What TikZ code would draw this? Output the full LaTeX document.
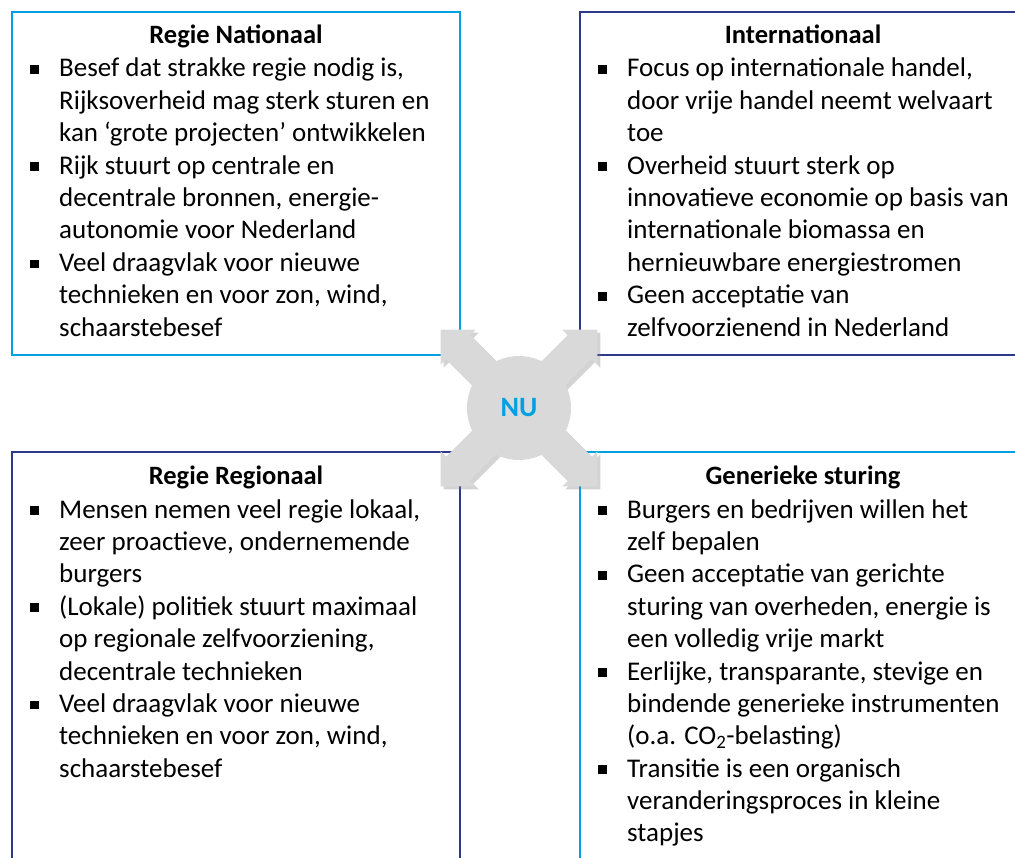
\documentclass[tikz,border=0pt]{standalone}
\usepackage{fontspec}
\setmainfont{Carlito}
\usetikzlibrary{positioning,shadows}
\definecolor{lichtblauw}{RGB}{0,160,227}
\definecolor{donkerblauw}{RGB}{46,57,140}
\definecolor{pijlgrijs}{RGB}{217,217,217}
\newcommand{\punt}{\par\hangindent=29pt\hangafter=1\noindent\hbox to 29pt{\rule[0.12em]{8.5pt}{8.5pt}\hfil}}
\newcommand{\lijstje}[1]{\vtop{\hsize=430pt\raggedright\parindent=0pt\parskip=0pt #1}}

\begin{document}
\begin{tikzpicture}[x=1pt,y=-1pt,
  kader/.style={line width=2.5pt},
  kop/.style={font=\fontsize{26.5}{32.4}\selectfont\bfseries, anchor=base, inner sep=0pt},
  lijst/.style={font=\fontsize{27}{32.4}\selectfont, anchor=base west, inner sep=0pt}]
\useasboundingbox (0,0) rectangle (1015,858);
% kaders
\draw[kader, lichtblauw] (12,12) rectangle (460,355);
\draw[kader, donkerblauw] (580,12) rectangle (1026,355);
\draw[kader, donkerblauw] (12,452) rectangle (460,880);
\draw[kader, lichtblauw] (580,452) rectangle (1026,880);
% linksboven
\node[kop] (nationaal) at (236,44) {Regie Nationaal};
\node[lijst] (nationaaltekst) at (30,77) {\lijstje{\punt Besef dat strakke regie nodig is,\newline Rijksoverheid mag sterk sturen en\newline kan ‘grote projecten’ ontwikkelen
  \punt Rijk stuurt op centrale en\newline decentrale bronnen, energie-\newline autonomie voor Nederland
  \punt Veel draagvlak voor nieuwe\newline technieken en voor zon, wind,\newline schaarstebesef}};
% rechtsboven
\node[kop] (internationaal) at (803,44) {Internationaal};
\node[lijst] (internationaaltekst) at (598,77) {\lijstje{\punt Focus op internationale handel,\newline door vrije handel neemt welvaart\newline toe
  \punt Overheid stuurt sterk op\newline innovatieve economie op basis van\newline internationale biomassa en\newline hernieuwbare energiestromen
  \punt Geen acceptatie van\newline zelfvoorzienend in Nederland}};
% linksonder
\node[kop] (regionaal) at (236,485) {Regie Regionaal};
\node[lijst] (regionaaltekst) at (30,518) {\lijstje{\punt Mensen nemen veel regie lokaal,\newline zeer proactieve, ondernemende\newline burgers
  \punt (Lokale) politiek stuurt maximaal\newline op regionale zelfvoorziening,\newline decentrale technieken
  \punt Veel draagvlak voor nieuwe\newline technieken en voor zon, wind,\newline schaarstebesef}};
% rechtsonder
\node[kop] (generiek) at (803,485) {Generieke sturing};
\node[lijst] (generiektekst) at (598,518) {\lijstje{\punt Burgers en bedrijven willen het\newline zelf bepalen
  \punt Geen acceptatie van gerichte\newline sturing van overheden, energie is\newline een volledig vrije markt
  \punt Eerlijke, transparante, stevige en\newline bindende generieke instrumenten\newline (o.a. CO\textsubscript{2}-belasting)
  \punt Transitie is een organisch\newline veranderingsproces in kleine\newline stapjes}};
% pijlen en cirkel
\foreach \hoek in {45,135,225,315}
  \fill[pijlgrijs, drop shadow={shadow xshift=3pt, shadow yshift=-3pt, opacity=0.35}, shift={(519,408)}, rotate=\hoek]
    (0,-17) -- (86,-17) -- (86,-25) -- (111,0) -- (86,25) -- (86,17) -- (0,17) -- cycle;
\node[circle, fill=pijlgrijs, minimum size=104pt, inner sep=0pt, font=\fontsize{28}{32}\selectfont\bfseries, text=lichtblauw] (nu) at (519,408) {NU};
\end{tikzpicture}
\end{document}
